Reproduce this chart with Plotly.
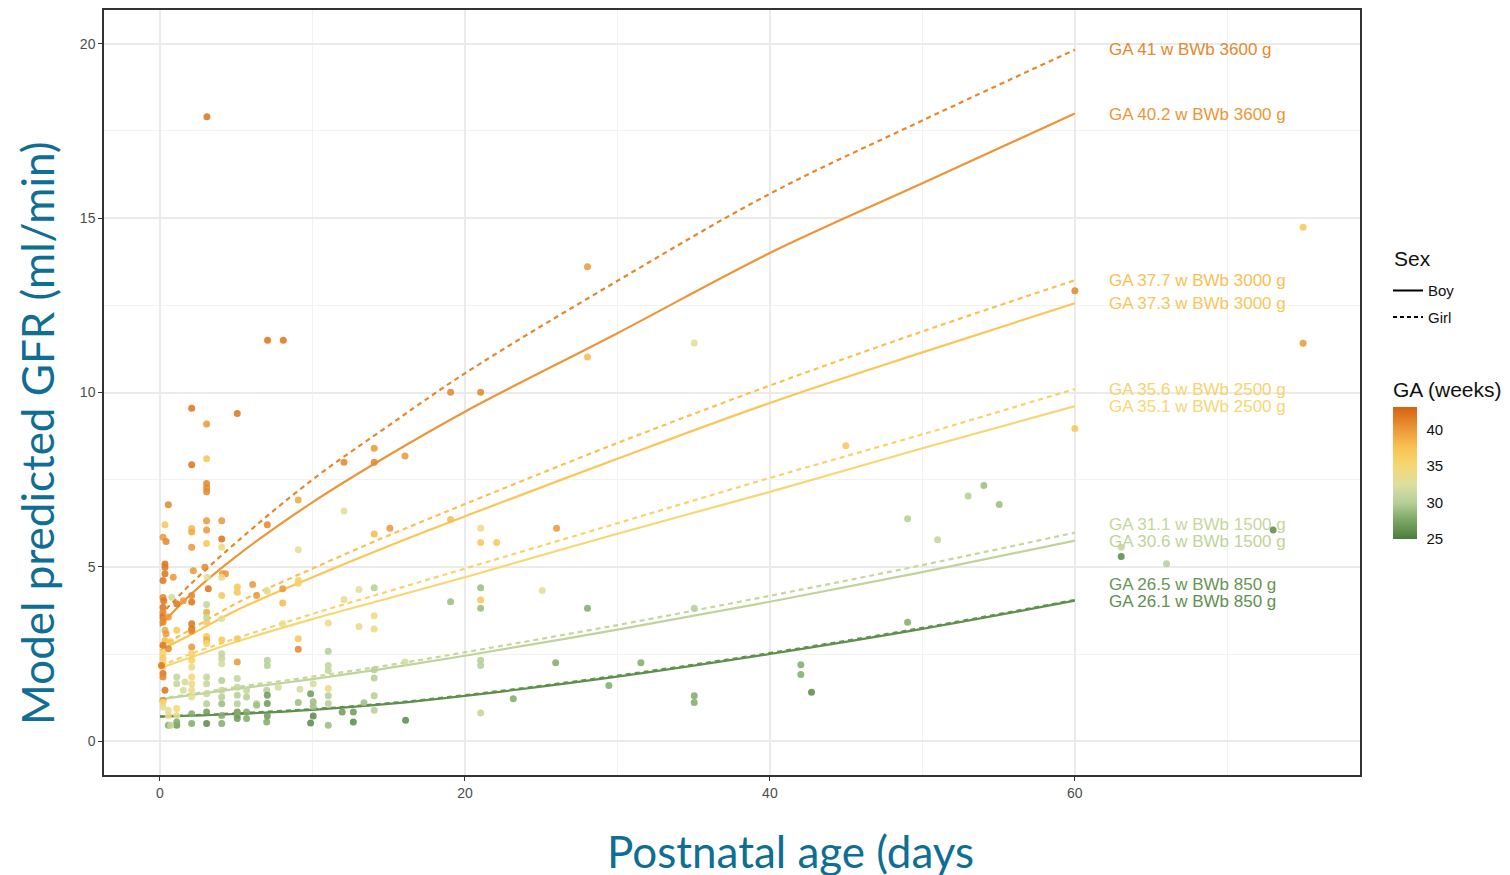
import plotly.graph_objects as go
from plotly.colors import sample_colorscale

# ---------------- data ----------------
obs_age = [2.08,5.07,3.06,2.08,3.06,3.06,3.06,3.06,0.55,0.33,0.2,0.4,2.08,2.08,2.08,3.06,3.06,3.06,4.05,4.05,4.05,
           0.33,0.33,0.33,0.2,0.87,2.19,2.95,3.1,3.17,4.1,4.3,4.05,4.05,5.07,5.07,6.08,6.34,7.0,0.2,0.25,0.77,1.1,1.53,
           2.08,2.08,3.06,3.06,4.05,0.2,0.2,0.2,0.2,0.55,2.08,2.08,2.08,3.06,3.06,1.1,0.33,0.4,0.33,0.7,0.2,0.55,4.05,
           3.06,3.06,3.06,5.07,2.08,2.08,2.08,2.08,0.2,0.2,0.2,0.2,4.05,4.05,4.05,5.07,0.2,0.2,0.33,0.2,1.1,1.1,1.64,1.53,
           2.08,2.08,2.08,2.08,3.06,3.06,3.06,3.06,4.05,4.05,4.05,4.05,5.07,5.07,5.07,5.07,5.68,5.68,6.34,7.0,0.2,0.2,
           0.55,0.55,1.1,1.1,0.55,1.1,1.1,2.08,2.08,3.06,3.06,4.05,4.05,5.07,5.07,5.07,5.68,5.68,6.34,7.0,0.7,0.1,
           14.05,14.05,12.07,16.07,9.07,12.07,7.04,9.07,14.05,15.08,7.04,8.05,8.05,9.07,9.07,12.07,13.05,14.05,8.05,
           11.04,13.05,14.05,14.05,9.07,9.07,7.04,7.04,11.04,11.04,11.04,11.04,11.04,11.04,14.05,14.05,14.05,14.05,16.07,
           7.76,7.04,7.04,7.04,9.18,9.07,10.05,9.88,10.05,10.05,10.05,9.88,11.04,11.95,12.68,12.68,13.38,16.11,
           28.04,19.06,21.03,28.04,35.04,19.06,21.03,21.03,22.08,26.01,44.98,19.06,21.03,21.03,21.03,25.07,28.04,35.04,
           21.03,21.03,25.95,31.54,29.44,23.17,21.03,35.04,35.04,42.03,42.03,42.73,
           74.97,60.0,74.97,60.0,49.03,53.0,54.03,55.04,51.0,63.04,63.04,66.01,73.0,49.03,
           3.08,7.06,8.09]
obs_gfr = [9.55,9.4,9.1,7.93,8.1,7.39,7.27,7.15,6.78,6.21,5.85,5.73,6.1,6.0,5.56,6.32,6.06,5.67,6.32,5.8,5.56,
           5.08,4.99,4.8,4.61,4.7,4.89,4.99,4.7,4.37,4.8,4.8,4.7,4.18,4.42,4.27,4.49,4.18,4.32,4.12,4.03,4.13,3.94,4.03,
           4.18,3.99,3.92,3.7,3.51,3.84,3.7,3.55,3.41,3.56,3.37,3.22,3.16,3.41,3.55,3.18,3.18,3.08,2.89,2.85,2.75,2.65,2.91,
           3.0,2.9,2.8,2.94,2.7,2.51,2.32,2.13,2.52,2.37,2.23,2.13,2.51,2.37,2.22,2.27,1.94,1.84,1.46,1.17,1.84,1.65,1.7,1.46,
           1.84,1.65,1.46,1.27,1.84,1.65,1.36,1.07,1.74,1.46,1.27,1.07,1.8,1.55,1.32,1.07,1.46,1.27,1.08,1.46,1.12,0.98,
           0.89,0.74,0.94,0.74,0.46,0.46,0.55,0.79,0.51,0.84,0.51,0.74,0.51,0.84,0.74,0.65,0.84,0.65,1.03,0.55,0.46,2.17,
           8.4,8.0,8.0,8.18,6.92,6.6,6.21,5.49,5.94,6.11,4.3,4.37,3.96,4.61,4.53,4.06,4.35,4.4,3.37,
           3.39,3.29,3.6,3.22,2.94,2.64,2.32,2.17,2.58,2.17,2.03,1.51,1.3,1.08,2.05,1.81,1.3,0.89,2.27,
           1.55,1.32,1.08,0.72,1.49,1.11,1.65,1.36,1.13,0.99,0.72,0.52,0.46,0.84,0.84,0.55,1.1,0.6,
           13.61,10.01,10.01,11.02,11.42,6.36,6.11,5.7,5.7,6.11,8.47,4.0,4.4,3.81,4.05,4.32,3.81,3.81,
           2.32,2.17,2.25,2.25,1.6,1.22,0.81,1.3,1.11,2.19,1.91,1.4,
           14.74,12.92,11.41,8.97,6.38,7.03,7.33,6.79,5.78,5.56,5.3,5.09,6.06,3.41,
           17.91,11.5,11.5]
obs_ga = [42,42,40,42,37,41,41,41,41,37,40,41,38,39,40,40,40,37,40,42,34,
          42,42,42,42,40,40,41,33,42,40,40,34,37,37,37,40,40,34,41,42,32,42,40,
          41,42,31,39,33,42,41,42,41,40,42,42,41,37,31,37,39,40,38,37,42,41,37,
          37,39,36,37,40,36,36,34,36,37,36,35,31,31,32,40,42,41,42,41,31,31,32,32,
          35,34,34,33,31,31,31,30,30,31,30,29,31,31,30,30,31,30,31,30,35,34,
          33,34,35,33,28,27,28,28,28,27,26,28,28,27,28,27,28,28,29,28,31,42,
          40,41,41,40,39,33,41,33,38,40,33,40,38,36,36,34,33,30,34,
          34,34,34,34,37,41,30,30,30,31,31,34,30,30,30,30,30,30,32,
          32,27,27,27,32,29,32,27,29,29,26,26,29,27,27,26,29,26,
          40,41,41,38,33,38,34,37,37,40,37,29,29,29,37,33,28,30,
          30,30,28,28,28,28,31,28,28,28,28,26,
          37,41,40,37,30,30,29,29,31,31,26,30,26,28,
          42,42,42]

curve_age = [0, 2, 5, 10, 15, 20, 30, 40, 50, 60]
gfr_ga41_girl  = [3.6, 4.5, 5.7, 7.5, 9.05, 10.55, 13.2, 15.7, 17.8, 19.83]
gfr_ga402_boy  = [3.3, 4.2, 5.3, 6.85, 8.2, 9.45, 11.7, 14.0, 16.0, 18.0]
gfr_ga377_girl = [2.7, 3.2, 3.95, 4.95, 5.9, 6.8, 8.55, 10.2, 11.75, 13.22]
gfr_ga373_boy  = [2.6, 3.05, 3.75, 4.7, 5.6, 6.45, 8.1, 9.7, 11.15, 12.56]
gfr_ga356_girl = [2.15, 2.5, 2.95, 3.65, 4.3, 4.95, 6.25, 7.55, 8.8, 10.1]
gfr_ga351_boy  = [2.1, 2.4, 2.85, 3.5, 4.1, 4.7, 5.95, 7.15, 8.4, 9.61]
gfr_ga311_girl = [1.22, 1.35, 1.55, 1.85, 2.18, 2.55, 3.33, 4.17, 5.05, 5.98]
gfr_ga306_boy  = [1.2, 1.32, 1.5, 1.78, 2.1, 2.45, 3.2, 4.0, 4.85, 5.75]
gfr_ga265_girl = [0.71, 0.74, 0.8, 0.92, 1.09, 1.32, 1.88, 2.53, 3.25, 4.05]
gfr_ga261_boy  = [0.70, 0.73, 0.78, 0.9, 1.07, 1.3, 1.85, 2.5, 3.22, 4.03]

curve_ga = [41, 40.2, 37.7, 37.3, 35.6, 35.1, 31.1, 30.6, 26.5, 26.1]
curve_sex = ["Girl", "Boy", "Girl", "Boy", "Girl", "Boy", "Girl", "Boy", "Girl", "Boy"]
curve_bw = [3600, 3600, 3000, 3000, 2500, 2500, 1500, 1500, 850, 850]
curve_gfr = [gfr_ga41_girl, gfr_ga402_boy, gfr_ga377_girl, gfr_ga373_boy, gfr_ga356_girl,
             gfr_ga351_boy, gfr_ga311_girl, gfr_ga306_boy, gfr_ga265_girl, gfr_ga261_boy]
label_gfr = [19.83, 17.97, 13.22, 12.56, 10.1, 9.61, 6.21, 5.72, 4.49, 4.0]

x_ticks = [0, 20, 40, 60]
y_ticks = [0, 5, 10, 15, 20]
cbar_ticks = [25, 30, 35, 40]

# ---------------- style ----------------
CMIN, CMAX = 25, 43.2
stops = [(25, "#4A7D3C"), (28, "#84AD6C"), (30, "#B6CF98"), (32.5, "#DCDFA0"),
         (35, "#F5D874"), (37.5, "#F9C454"), (40, "#EC9A3B"), (43.2, "#D5620E")]
colorscale = [[(g - CMIN) / (CMAX - CMIN), c] for g, c in stops]

def ga_color(g):
    return sample_colorscale(colorscale, [(g - CMIN) / (CMAX - CMIN)])[0]

# page body has an 8px margin, so figure pixel = window pixel - 8
W, H = 1510, 875
L, T = 96, 0
pw, ph = 1256, 767
R, B = W - L - pw, H - T - ph

def px_to_paper(wx, wy):
    fx, fy = wx - 8, wy - 8
    return (fx - L) / pw, (T + ph - fy) / ph

fig = go.Figure()

# model curves
for ga, sex, gfr in zip(curve_ga, curve_sex, curve_gfr):
    fig.add_trace(go.Scatter(
        x=curve_age, y=gfr, mode="lines", line_shape="spline",
        line=dict(color=ga_color(ga), width=2.2, dash="solid" if sex == "Boy" else "5px,4px"),
        showlegend=False, hoverinfo="skip"))

# observations
cb_x, cb_y = px_to_paper(1393, 538)
fig.add_trace(go.Scatter(
    x=obs_age, y=obs_gfr, mode="markers", showlegend=False,
    marker=dict(size=7, color=obs_ga, colorscale=colorscale, cmin=CMIN, cmax=CMAX, opacity=0.88,
                line=dict(width=0),
                colorbar=dict(
                    title=dict(text="GA (weeks)", side="top",
                               font=dict(size=21, family="Liberation Sans, Arial", color="#111")),
                    x=cb_x, xanchor="left", xpad=0, y=cb_y, yanchor="bottom", ypad=0,
                    len=160, lenmode="pixels", thickness=24, thicknessmode="pixels",
                    outlinewidth=0, tickvals=cbar_ticks, ticks="outside", ticklen=7,
                    tickcolor="rgba(0,0,0,0)", tickwidth=1,
                    tickfont=dict(size=15, family="Liberation Sans, Arial", color="#111"))),
    hoverinfo="skip"))

# legend entries for Sex
for name, dash in [("Boy", "solid"), ("Girl", "4px,3px")]:
    fig.add_trace(go.Scatter(x=[None], y=[None], mode="lines", name=name, legendgroup=name,
                             line=dict(color="black", width=2, dash=dash)))

# curve labels
for ga, bw, ly in zip(curve_ga, curve_bw, label_gfr):
    fig.add_annotation(x=62.1, y=ly, xref="x", yref="y", xanchor="left", yanchor="middle",
                       text=f"GA {ga:g} w BWb {bw} g", showarrow=False,
                       font=dict(size=17, family="Liberation Sans, Arial", color=ga_color(ga)))

# axis titles (placed in window pixels)
ax, ay = px_to_paper(790, 851)
fig.add_annotation(x=ax, y=ay, xref="paper", yref="paper", xanchor="center", yanchor="middle",
                   text="Postnatal age (days", showarrow=False,
                   font=dict(size=44, family="Lato, Open Sans", color="#0F6E93"))
ax, ay = px_to_paper(37, 433)
fig.add_annotation(x=ax, y=ay, xref="paper", yref="paper", xanchor="center", yanchor="middle",
                   text="Model predicted GFR (ml/min)", textangle=-90, showarrow=False,
                   font=dict(size=44, family="Lato, Open Sans", color="#0F6E93"))

# legend title
ax, ay = px_to_paper(1392, 257)
fig.add_annotation(x=ax, y=ay, xref="paper", yref="paper", xanchor="left", yanchor="middle",
                   text="Sex", showarrow=False,
                   font=dict(size=21, family="Liberation Sans, Arial", color="#111"))

axis_common = dict(showline=True, linecolor="#333333", linewidth=1.5, mirror=True,
                   ticks="outside", ticklen=4, tickcolor="#333333", tickwidth=1,
                   showgrid=True, gridcolor="#EBEBEB", gridwidth=1.6, zeroline=False,
                   tickfont=dict(size=14, family="Liberation Sans Narrow, Liberation Sans, Arial",
                                 color="#4D4D4D"))

lg_x, lg_y = px_to_paper(1388, 273)
fig.update_layout(
    width=W, height=H, margin=dict(l=L, r=R, t=T, b=B),
    plot_bgcolor="white", paper_bgcolor="white",
    xaxis=dict(range=[-3.67, 78.7], tickvals=x_ticks,
               minor=dict(dtick=10, tick0=0, showgrid=True, gridcolor="#F2F2F2", gridwidth=0.8, ticks=""),
               **axis_common),
    yaxis=dict(range=[-0.97, 20.97], tickvals=y_ticks,
               minor=dict(dtick=2.5, tick0=0, showgrid=True, gridcolor="#F2F2F2", gridwidth=0.8, ticks=""),
               **axis_common),
    legend=dict(x=lg_x, xanchor="left", y=lg_y, yanchor="top",
                font=dict(size=15, family="Liberation Sans, Arial", color="#111"),
                itemwidth=30, tracegroupgap=4, bgcolor="rgba(0,0,0,0)"),
    showlegend=True,
)

fig.write_html("out.html")
